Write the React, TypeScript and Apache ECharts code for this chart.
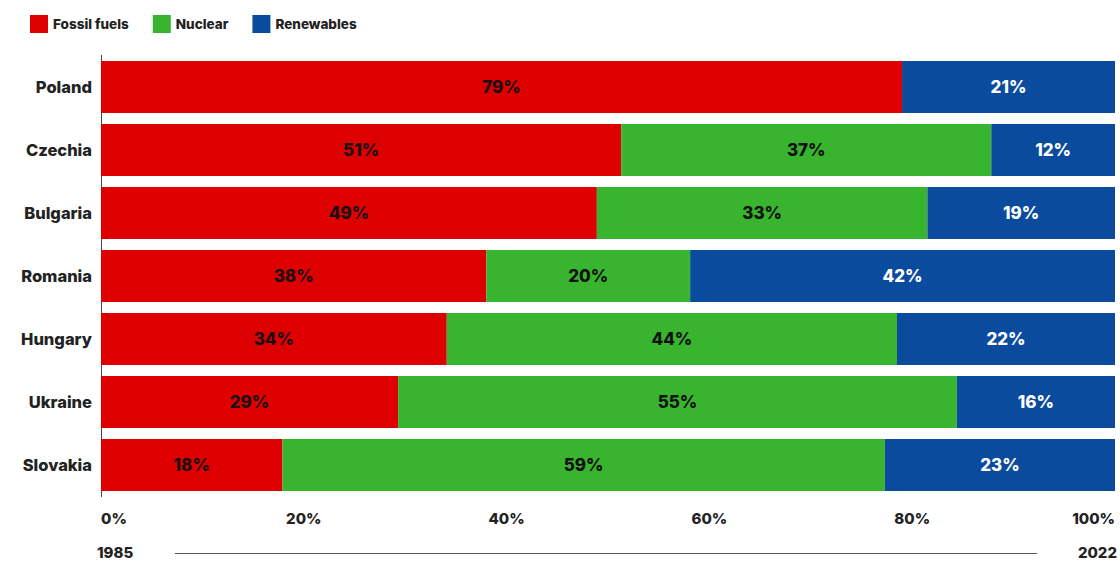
import React, { useEffect, useRef } from "react";
import * as echarts from "echarts";

const countries = ["Poland", "Czechia", "Bulgaria", "Romania", "Hungary", "Ukraine", "Slovakia"];
const fossil = [79, 51.3, 48.9, 38.0, 34.1, 29.3, 17.9];
const nuclear = [0, 36.5, 32.6, 20.1, 44.4, 55.1, 59.4];
const renewables = [21, 12.2, 18.5, 41.9, 21.5, 15.6, 22.7];
const xTicks = [0, 20, 40, 60, 80, 100];
const yearStart = "1985";
const yearEnd = "2022";

const FONT = "Inter, 'Open Sans', sans-serif";

export default function App() {
  const ref = useRef<HTMLDivElement>(null);
  useEffect(() => {
    if (!ref.current) return;
    const chart = echarts.init(ref.current, undefined, { renderer: "svg" });
    const labelFmt = (p: any) => (p.value ? Math.round(p.value) + "%" : "");
    const mk = (name: string, data: number[], color: string, labelColor: string) => ({
      name,
      type: "bar",
      stack: "total",
      data,
      barWidth: 52,
      itemStyle: { color },
      label: {
        show: true,
        position: "inside",
        formatter: labelFmt,
        color: labelColor,
        fontFamily: FONT,
        fontWeight: 800,
        fontSize: 17,
      },
    });
    chart.setOption({
      animation: false,
      backgroundColor: "#ffffff",
      legend: {
        left: 25,
        top: 10,
        icon: "rect",
        itemWidth: 18,
        itemHeight: 18,
        itemGap: 24,
        itemTextGap: 7,
        textStyle: { fontFamily: FONT, fontWeight: 800, fontSize: 13.5, color: "#222" },
        data: ["Fossil fuels", "Nuclear", "Renewables"],
      },
      grid: { left: 101, right: 5, top: 55.5, bottom: 66.5, containLabel: false },
      xAxis: {
        type: "value",
        min: xTicks[0],
        max: xTicks[xTicks.length - 1],
        interval: xTicks[1] - xTicks[0],
        axisLine: { show: false },
        axisTick: { show: false },
        splitLine: { show: false },
        axisLabel: {
          formatter: "{value}%",
          fontFamily: FONT,
          fontWeight: 800,
          fontSize: 15,
          color: "#222",
          margin: 14,
          alignMinLabel: "left",
          alignMaxLabel: "right",
        },
      },
      yAxis: {
        type: "category",
        data: countries,
        inverse: true,
        axisLine: { show: true, lineStyle: { color: "#444", width: 1 } },
        axisTick: { show: false },
        axisLabel: {
          fontFamily: FONT,
          fontWeight: 800,
          fontSize: 16.5,
          color: "#222",
          margin: 9,
        },
      },
      series: [
        mk("Fossil fuels", fossil, "#de0000", "#1a1010"),
        mk("Nuclear", nuclear, "#38b42e", "#111111"),
        mk("Renewables", renewables, "#0b4b9e", "#ffffff"),
      ],
      graphic: [
        {
          type: "text",
          left: 97,
          top: 545,
          style: { text: yearStart, fontFamily: FONT, fontWeight: 800, fontSize: 15, fill: "#222" },
        },
        {
          type: "line",
          shape: { x1: 175, y1: 553.5, x2: 1037, y2: 553.5 },
          style: { stroke: "#555", lineWidth: 1 },
        },
        {
          type: "text",
          right: 3,
          top: 545,
          style: { text: yearEnd, fontFamily: FONT, fontWeight: 800, fontSize: 15, fill: "#222" },
        },
      ],
    });
    return () => chart.dispose();
  }, []);
  return (
    <div
      ref={ref}
      style={{ position: "fixed", left: 0, top: 0, width: 1120, height: 563 }}
    />
  );
}
